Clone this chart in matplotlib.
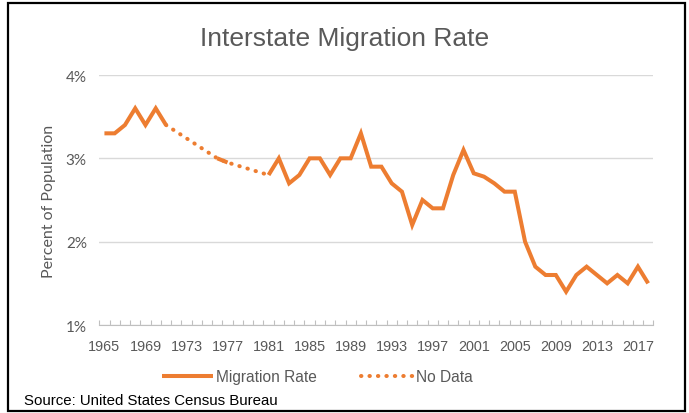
import matplotlib
matplotlib.use("Agg")
import matplotlib.pyplot as plt
from matplotlib.patches import Rectangle
import numpy as np

# Data (percent of population)
years = list(range(1965, 2019))
rate = [3.3, 3.3, 3.4, 3.6, 3.4, 3.6, 3.4,
        np.nan, np.nan, np.nan, np.nan,
        3.0, 2.95,
        np.nan, np.nan, np.nan,
        2.8, 3.0, 2.7, 2.8, 3.0, 3.0, 2.8, 3.0, 3.0, 3.3,
        2.9, 2.9, 2.7, 2.6, 2.2, 2.5, 2.4, 2.4, 2.8, 3.1,
        2.82, 2.78, 2.7, 2.6, 2.6, 2.0, 1.7, 1.6, 1.6, 1.4,
        1.6, 1.7, 1.6, 1.5, 1.6, 1.5, 1.7, 1.5]
gap_years = [1971, 1976, 1977, 1981]
gap_vals = [3.4, 3.0, 2.95, 2.8]
label_years = list(range(1965, 2018, 4))

orange = "#ED7D31"
grey_txt = "#595959"
arial = ["Liberation Sans", "DejaVu Sans"]

fig = plt.figure(figsize=(6.89, 4.14), dpi=100)
ax = fig.add_axes([99.3 / 689, 1 - 326 / 414, 554 / 689, 250 / 414])

ax.plot(years, rate, color=orange, lw=2.9, solid_joinstyle="miter",
        solid_capstyle="butt", label="Migration Rate", zorder=3)
ax.plot(gap_years, gap_vals, color=orange, lw=2.9,
        linestyle=(0, (0.1, 2.0)), dash_capstyle="round",
        label="No Data", zorder=3)

ax.set_xlim(1964.5, 2018.5)
ax.set_ylim(1, 4)
ax.set_yticks([1, 2, 3, 4])
ax.set_yticklabels([f"{v}%" for v in [1, 2, 3, 4]], family="Lato",
                   fontsize=11, color=grey_txt)
ax.set_xticks(label_years)
ax.set_xticklabels([str(y) for y in label_years], family=arial,
                   fontsize=10.4, color=grey_txt)
ax.set_xticks(np.arange(1964.5, 2019, 1), minor=True)
ax.tick_params(axis="x", which="major", length=0, pad=10)
ax.tick_params(axis="x", which="minor", direction="in", length=3.6,
               color="#bfbfbf", width=0.8)
ax.tick_params(axis="y", length=0, pad=9)

ax.grid(axis="y", color="#d9d9d9", lw=1)
ax.set_axisbelow(True)
for s in ["top", "right", "left"]:
    ax.spines[s].set_visible(False)
ax.spines["bottom"].set_color("#bfbfbf")
ax.spines["bottom"].set_linewidth(0.8)

ax.set_ylabel("Percent of Population", family="Lato", fontsize=11.5,
              color=grey_txt, labelpad=7)

fig.text(0.5, 1 - 39 / 414, "Interstate Migration Rate", ha="center",
         va="center", family=arial, fontsize=19, color=grey_txt)

leg = fig.legend(loc="center", bbox_to_anchor=(317 / 689, 1 - 378 / 414),
                 ncol=2, frameon=False, handlelength=3.3, columnspacing=2.85,
                 handletextpad=0.2, prop={"family": arial, "size": 11.2})
for t in leg.get_texts():
    t.set_color(grey_txt)

fig.text(24 / 689, 1 - 401 / 414, "Source: United States Census Bureau",
         ha="left", va="center", family=arial, fontsize=10.8,
         color="black")

fig.patches.append(Rectangle((8 / 689, 2 / 414), 677 / 689, 408 / 414,
                             transform=fig.transFigure, fill=False,
                             edgecolor="black", lw=1.6))

fig.savefig("out.png", dpi=100)
